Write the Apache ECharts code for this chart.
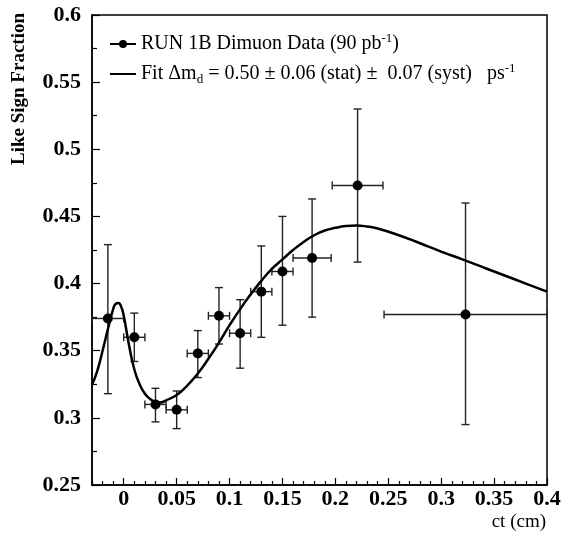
<!DOCTYPE html>
<html>
<head>
    <meta charset="utf-8">
    <title>Like Sign Fraction</title>
    <script src="https://cdn.jsdelivr.net/npm/echarts@6/dist/echarts.min.js"></script>
    <style>
        html, body { margin:0; padding:0; background:#fff; }
        #main { width:571px; height:537px; }
    </style>
</head>
<body>
<div id="main"></div>
<script>
// data points (ct in cm, like sign fraction)
var ptX     = [-0.015, 0.01, 0.03, 0.05, 0.07, 0.09, 0.11, 0.13, 0.15, 0.178, 0.221, 0.323];
var ptY     = [0.374, 0.360, 0.310, 0.306, 0.348, 0.376, 0.363, 0.394, 0.409, 0.419, 0.473, 0.377];
var ptYLow  = [0.318, 0.342, 0.297, 0.292, 0.330, 0.355, 0.337, 0.360, 0.369, 0.375, 0.416, 0.295];
var ptYHigh = [0.429, 0.378, 0.322, 0.320, 0.365, 0.397, 0.388, 0.428, 0.450, 0.463, 0.530, 0.460];
var ptXLow  = [-0.03, 0.0, 0.02, 0.04, 0.06, 0.08, 0.10, 0.12, 0.14, 0.16, 0.197, 0.246];
var ptXHigh = [0.0, 0.02, 0.04, 0.06, 0.08, 0.10, 0.12, 0.14, 0.16, 0.196, 0.245, 0.40];

// fit curve
var fitX = [-0.03, -0.025, -0.02, -0.015, -0.01, -0.0075, -0.005, -0.0025, 0.0, 0.005, 0.01, 0.015, 0.02, 0.025,
            0.03, 0.035, 0.04, 0.05, 0.06, 0.07, 0.08, 0.09, 0.10, 0.11, 0.12, 0.13, 0.14, 0.15, 0.16,
            0.17, 0.18, 0.19, 0.20, 0.21, 0.22, 0.23, 0.24, 0.26, 0.28, 0.30, 0.32, 0.34, 0.36, 0.38, 0.40];
var fitY = [0.3245, 0.335, 0.350, 0.366, 0.381, 0.385, 0.3855, 0.383, 0.376, 0.354, 0.336, 0.325, 0.318, 0.314,
            0.312, 0.3115, 0.313, 0.317, 0.324, 0.333, 0.344, 0.356, 0.369, 0.381, 0.392, 0.402, 0.411, 0.418, 0.425,
            0.431, 0.436, 0.4395, 0.4415, 0.4428, 0.4432, 0.4425, 0.441, 0.436, 0.430, 0.4238, 0.418, 0.412, 0.406, 0.400, 0.394];

// axis ticks
var xTicks = [0, 0.05, 0.1, 0.15, 0.2, 0.25, 0.3, 0.35, 0.4];
var xTickLabels = ['0', '0.05', '0.1', '0.15', '0.2', '0.25', '0.3', '0.35', '0.4'];
var yTicks = [0.25, 0.3, 0.35, 0.4, 0.45, 0.5, 0.55, 0.6];
var yTickLabels = ['0.25', '0.3', '0.35', '0.4', '0.45', '0.5', '0.55', '0.6'];

var xMinor = [];
for (var i = -3; i <= 40; i++) { if (i % 5 !== 0) xMinor.push(i / 100); }
var yMinor = [0.275, 0.325, 0.375, 0.425, 0.475, 0.525, 0.575];

var FONT = 'Liberation Serif';

var legendTexts = {
    data: 'RUN 1B Dimuon Data (90 pb{sup|-1})',
    fit: 'Fit \u0394m{sub|d} = 0.50 \u00b1 0.06 (stat) \u00b1  0.07 (syst)   ps{sup|-1}'
};

var points = [], errs = [], fit = [];
for (var k = 0; k < ptX.length; k++) {
    points.push([ptX[k], ptY[k]]);
    errs.push([ptX[k], ptY[k], ptXLow[k], ptXHigh[k], ptYLow[k], ptYHigh[k]]);
}
for (var j = 0; j < fitX.length; j++) fit.push([fitX[j], fitY[j]]);

function labelOf(ticks, labels) {
    return function (v) {
        for (var n = 0; n < ticks.length; n++) if (Math.abs(ticks[n] - v) < 1e-9) return labels[n];
        return '';
    };
}

var chart = echarts.init(document.getElementById('main'));
var option = {
    animation: false,
    grid: { left: 92, right: 24, top: 15, bottom: 52, show: true, borderColor: '#000', borderWidth: 1.5 },
    xAxis: [{
        type: 'value', min: -0.03, max: 0.4, position: 'bottom',
        splitLine: { show: false },
        axisLine: { show: true, onZero: false, lineStyle: { color: '#000', width: 1.5 } },
        axisTick: { show: true, inside: true, length: 7, customValues: xTicks, lineStyle: { color: '#000', width: 1.2 } },
        axisLabel: { customValues: xTicks, formatter: labelOf(xTicks, xTickLabels), color: '#000',
                     fontFamily: FONT, fontSize: 22, fontWeight: 'bold', margin: 3 }
    }, {
        type: 'value', min: -0.03, max: 0.4, position: 'bottom',
        splitLine: { show: false },
        axisLine: { show: false, onZero: false },
        axisTick: { show: true, inside: true, length: 4, customValues: xMinor, lineStyle: { color: '#000', width: 1.2 } },
        axisLabel: { show: false }
    }],
    yAxis: [{
        type: 'value', min: 0.25, max: 0.6, position: 'left',
        splitLine: { show: false },
        axisLine: { show: true, onZero: false, lineStyle: { color: '#000', width: 1.5 } },
        axisTick: { show: true, inside: true, length: 8, customValues: yTicks, lineStyle: { color: '#000', width: 1.2 } },
        axisLabel: { customValues: yTicks, formatter: labelOf(yTicks, yTickLabels), color: '#000',
                     fontFamily: FONT, fontSize: 22, fontWeight: 'bold', margin: 11 }
    }, {
        type: 'value', min: 0.25, max: 0.6, position: 'left',
        splitLine: { show: false },
        axisLine: { show: false, onZero: false },
        axisTick: { show: true, inside: true, length: 5, customValues: yMinor, lineStyle: { color: '#000', width: 1.2 } },
        axisLabel: { show: false }
    }],
    legend: {
        orient: 'vertical', left: 104, top: 27, itemGap: 6, itemWidth: 26, itemHeight: 10,
        data: [{ name: 'data' }, { name: 'fit', itemStyle: { opacity: 0 } }],
        lineStyle: { color: '#000', width: 2, opacity: 1 },
        formatter: function (name) { return legendTexts[name]; },
        textStyle: {
            fontFamily: FONT, fontSize: 20, color: '#000', lineHeight: 24,
            rich: {
                sup: { fontFamily: FONT, fontSize: 13, lineHeight: 10, verticalAlign: 'top', color: '#000' },
                sub: { fontFamily: FONT, fontSize: 13, lineHeight: 14, verticalAlign: 'bottom', color: '#000' }
            }
        }
    },
    graphic: [
        { type: 'text', x: 19, y: 13, rotation: Math.PI / 2,
          style: { text: 'Like Sign Fraction', font: 'bold 19px "Liberation Serif"', fill: '#000', textAlign: 'right', textVerticalAlign: 'middle' } },
        { type: 'text', x: 546, y: 522,
          style: { text: 'ct (cm)', font: '19px "Liberation Serif"', fill: '#000', textAlign: 'right', textVerticalAlign: 'middle' } }
    ],
    series: [{
        type: 'custom',
        name: 'errors',
        data: errs,
        encode: { x: [0, 2, 3], y: [1, 4, 5] },
        renderItem: function (params, api) {
            var x = api.value(0), y = api.value(1);
            var c = api.coord([x, y]);
            var l = api.coord([api.value(2), y]), r = api.coord([api.value(3), y]);
            var b = api.coord([x, api.value(4)]), t = api.coord([x, api.value(5)]);
            var cap = 4;
            var st = { stroke: '#222', lineWidth: 1.4 };
            return { type: 'group', children: [
                { type: 'line', shape: { x1: l[0], y1: c[1], x2: r[0], y2: c[1] }, style: st },
                { type: 'line', shape: { x1: c[0], y1: b[1], x2: c[0], y2: t[1] }, style: st },
                { type: 'line', shape: { x1: l[0], y1: c[1] - cap, x2: l[0], y2: c[1] + cap }, style: st },
                { type: 'line', shape: { x1: r[0], y1: c[1] - cap, x2: r[0], y2: c[1] + cap }, style: st },
                { type: 'line', shape: { x1: c[0] - cap, y1: b[1], x2: c[0] + cap, y2: b[1] }, style: st },
                { type: 'line', shape: { x1: c[0] - cap, y1: t[1], x2: c[0] + cap, y2: t[1] }, style: st }
            ] };
        },
        z: 2
    }, {
        type: 'line',
        name: 'fit',
        data: fit,
        symbol: 'none',
        showSymbol: false,
        smooth: 0.5,
        lineStyle: { color: '#000', width: 2.5 },
        itemStyle: { color: '#000' },
        z: 3
    }, {
        type: 'line',
        name: 'data',
        data: points,
        symbol: 'circle',
        symbolSize: 10,
        lineStyle: { opacity: 0 },
        itemStyle: { color: '#000' },
        z: 4
    }]
};
chart.setOption(option);
</script>
</body>
</html>
